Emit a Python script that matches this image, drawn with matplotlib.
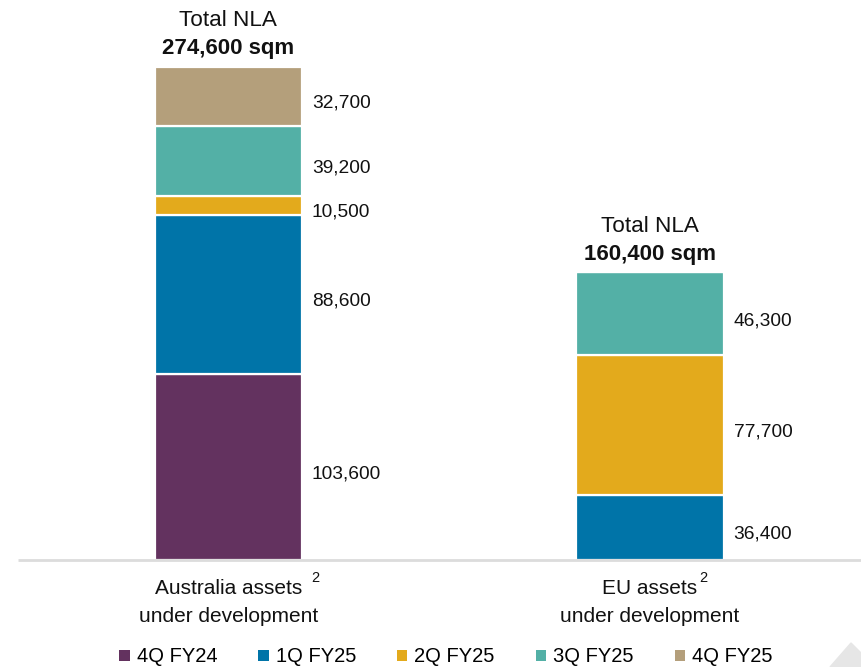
import numpy as np
import matplotlib
matplotlib.use("Agg")
import matplotlib.pyplot as plt
from matplotlib.patches import Polygon
from matplotlib.transforms import offset_copy, blended_transform_factory

plt.rcParams['font.family'] = ['Liberation Sans', 'DejaVu Sans']

#Data
categories = ["Australia assets", "EU assets"]
sub_labels = ["under development", "under development"]
series = ["4Q FY24", "1Q FY25", "2Q FY25", "3Q FY25", "4Q FY25"]
colors = ["#63325f", "#0074a8", "#e3aa1c", "#53b0a6", "#b49f7b"]
australia = [103600, 88600, 10500, 39200, 32700]
eu = [0, 36400, 77700, 46300, 0]
totals = ["274,600 sqm", "160,400 sqm"]

values = np.array([australia, eu])
x = np.arange(len(categories))

fig = plt.figure(figsize=(8.61, 6.67), dpi=100)
ax = fig.add_axes([10 / 861, 107 / 667, 851 / 861, 560 / 667])
ax.set_xlim(-0.518, 1.5006)
ax.set_ylim(0, 311900)
ax.axis('off')

width = 0.349
bottom = np.zeros(len(categories))
for i, name in enumerate(series):
    vals = values[:, i]
    ax.bar(x, vals, width, bottom=bottom, color=colors[i], edgecolor='white',
           linewidth=1.6, label=name)
    for j in range(len(categories)):
        if vals[j] > 0:
            tr = offset_copy(ax.transData, fig=fig, x=10, y=-7, units='dots')
            ax.text(x[j] + width / 2, bottom[j] + vals[j] / 2, f"{vals[j]:,}",
                    transform=tr, ha='left', va='center', fontsize=13.8, color='#111111')
    bottom += vals

#Totals on top
for j in range(len(categories)):
    tr1 = offset_copy(ax.transData, fig=fig, x=0, y=18, units='dots')
    ax.text(x[j], bottom[j], totals[j], transform=tr1, ha='center', va='center',
            fontsize=16, fontweight='bold', color='#111111')
    tr2 = offset_copy(ax.transData, fig=fig, x=0, y=46, units='dots')
    ax.text(x[j], bottom[j], "Total NLA", transform=tr2, ha='center', va='center',
            fontsize=16.2, color='#111111')

#Baseline
ax.plot([8 / 851, 1], [0, 0], transform=ax.transAxes, color='#dcdcdc', lw=2,
        clip_on=False, solid_capstyle='butt')

#Category labels
bt = blended_transform_factory(ax.transData, fig.transFigure)
for j in range(len(categories)):
    ax.text(x[j], (667 - 589) / 667, categories[j], transform=bt, ha='center',
            va='center', fontsize=15, color='#111111')
    ax.text(x[j], (667 - 617) / 667, sub_labels[j], transform=bt, ha='center',
            va='center', fontsize=15, color='#111111')
sup_x = [315, 703]
for sx in sup_x:
    fig.text(sx / 861, (667 - 578) / 667, "2", ha='center', va='center',
             fontsize=10.5, color='#111111')

#Legend
handles, labels = ax.get_legend_handles_labels()
leg = fig.legend(handles, labels, loc='center', bbox_to_anchor=(0.518, 10 / 667),
                 ncol=5, frameon=False, fontsize=14.5, handlelength=0.5,
                 handleheight=0.5, handletextpad=0.35, columnspacing=2.05)
for h in leg.legend_handles:
    h.set_edgecolor('none')

#Corner triangle
tri = Polygon([[830 / 861, 0], [851 / 861, 24 / 667], [1, 14 / 667], [1, 0]],
              closed=True, transform=fig.transFigure, color='#e6e6e6', zorder=0)
fig.patches.append(tri)

fig.savefig("out.png", dpi=100)
